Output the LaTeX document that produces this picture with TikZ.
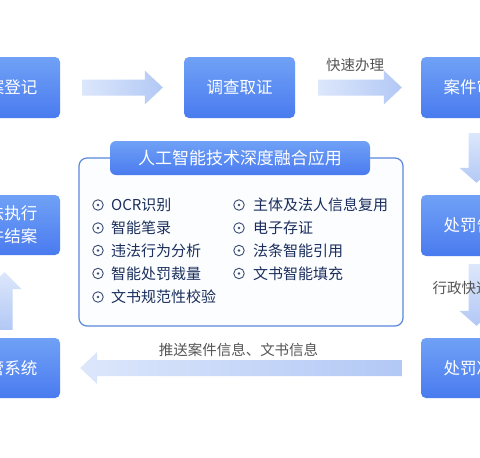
\documentclass[tikz,border=0pt]{standalone}
\usepackage{fontspec}
\newfontfamily\cjk{Noto Sans CJK SC}
\usetikzlibrary{calc}
\definecolor{boxtop}{HTML}{70A1F6}
\definecolor{boxbot}{HTML}{4A7BEF}
\definecolor{arrlight}{HTML}{DCE7FB}
\definecolor{arrdark}{HTML}{B2C8F5}
\definecolor{panelline}{HTML}{5A88DC}
\definecolor{panelfill}{HTML}{FBFDFF}
\definecolor{itemc}{HTML}{1B2E5C}
\definecolor{labelc}{HTML}{555555}
\newcommand\fatR[3][]{\path[#1] let \p1=(#2),\p2=(#3) in (\x1,\y1+8pt) -- (\x2-18pt,\y1+8pt) -- (\x2-18pt,\y1+17pt) -- (\x2,\y1) -- (\x2-18pt,\y1-17pt) -- (\x2-18pt,\y1-8pt) -- (\x1,\y1-8pt) -- cycle;}
\newcommand\fatL[3][]{\path[#1] let \p1=(#2),\p2=(#3) in (\x1,\y1+8pt) -- (\x2+17pt,\y1+8pt) -- (\x2+17pt,\y1+16pt) -- (\x2,\y1) -- (\x2+17pt,\y1-16pt) -- (\x2+17pt,\y1-8pt) -- (\x1,\y1-8pt) -- cycle;}
\newcommand\fatD[3][]{\path[#1] let \p1=(#2),\p2=(#3) in (\x1-8pt,\y1) -- (\x1-8pt,\y2+15pt) -- (\x1-17pt,\y2+15pt) -- (\x1,\y2) -- (\x1+17pt,\y2+15pt) -- (\x1+8pt,\y2+15pt) -- (\x1+8pt,\y1) -- cycle;}
\newcommand\fatU[3][]{\path[#1] let \p1=(#2),\p2=(#3) in (\x1-8pt,\y1) -- (\x1-8pt,\y2-17pt) -- (\x1-17pt,\y2-17pt) -- (\x1,\y2) -- (\x1+17pt,\y2-17pt) -- (\x1+8pt,\y2-17pt) -- (\x1+8pt,\y1) -- cycle;}
\begin{document}
\begin{tikzpicture}[x=1pt,y=-1pt,
  every node/.style={font=\cjk},
  procbox/.style={rounded corners=5pt, minimum width=111pt, minimum height=61pt, inner sep=0pt,
    top color=boxtop, bottom color=boxbot, draw=none, text=white, align=center,
    font=\cjk\fontsize{16.5}{23}\selectfont},
  tabbox/.style={rounded corners=6pt, minimum width=260pt, minimum height=34pt, inner sep=0pt,
    top color=boxtop, bottom color=boxbot, text=white, font=\cjk\fontsize{17}{20}\selectfont},
  item/.style={anchor=west, inner sep=0pt, text=itemc, font=\cjk\fontsize{15}{17}\selectfont},
  bul/.style={circle, draw=itemc!85, line width=0.9pt, minimum size=10.5pt, inner sep=0pt,
    path picture={\fill[itemc!85] (path picture bounding box.center) circle (1.3pt);}},
  lab/.style={text=labelc, inner sep=0pt, font=\cjk\fontsize{14.5}{17}\selectfont},
  harr/.style={left color=arrlight, right color=arrdark},
  larr/.style={left color=arrlight, right color=arrdark},
  darr/.style={top color=arrlight, bottom color=arrdark},
  uarr/.style={top color=arrlight, bottom color=arrdark}]
\clip (0,0) rectangle (480,458);
\fill[white] (0,0) rectangle (480,458);

% process boxes
\node[procbox] (b1) at (4.5,87.5) {立案登记};
\node[procbox] (b2) at (239.5,87.5) {调查取证};
\node[procbox] (b3) at (476.5,87.5) {案件审核};
\node[procbox] (b4) at (476.5,225.5) {处罚告知};
\node[procbox, minimum height=60pt] (b5) at (476.5,368) {处罚决定};
\node[procbox, minimum height=60pt] (b6) at (4.5,368) {监管系统};
\node[procbox, minimum height=60pt] (b7) at (4.5,225) {依法执行\\案件结案};

% connector end points
\coordinate (a1s) at ($(b1.east)+(22,0)$);
\coordinate (a1e) at ($(b2.west)+(-21,0)$);
\coordinate (a2s) at ($(b2.east)+(23,0)$);
\coordinate (a2e) at ($(b3.west)+(-19,0)$);
\coordinate (a3s) at ($(b3.south)+(0,15)$);
\coordinate (a3e) at ($(b4.north)+(0,-12)$);
\coordinate (a4s) at ($(b4.south)+(0,8)$);
\coordinate (a4e) at ($(b5.north)+(0,-12)$);
\coordinate (a5s) at ($(b5.west)+(-19,0)$);
\coordinate (a5e) at ($(b6.east)+(20,0)$);
\coordinate (a6s) at ($(b6.north)+(0,-8)$);
\coordinate (a6e) at ($(b7.south)+(0,17)$);

% fat arrows
\fatR[harr]{a1s}{a1e}
\fatR[harr]{a2s}{a2e}
\fatD[darr]{a3s}{a3e}
\fatD[darr]{a4s}{a4e}
\fatL[larr]{a5s}{a5e}
\fatU[uarr]{a6s}{a6e}

% labels
\node[lab] (l1) at (355,65) {快速办理};
\node[lab] (l2) at (476,288) {行政快速办理};
\node[lab] (l3) at (238.5,350) {推送案件信息、文书信息};

% central panel
\draw[panelline, line width=1.2pt, fill=panelfill, rounded corners=8pt] (79,158) rectangle (403,326);
\node[tabbox] (tab) at (240,158) {人工智能技术深度融合应用};

% items, column 1
\node[bul] (c1) at (98,205) {};
\node[item] (t1) at (111,205) {OCR识别};
\node[bul] (c2) at (98,228) {};
\node[item] (t2) at (111,228) {智能笔录};
\node[bul] (c3) at (98,250.5) {};
\node[item] (t3) at (111,250.5) {违法行为分析};
\node[bul] (c4) at (98,273.5) {};
\node[item] (t4) at (111,273.5) {智能处罚裁量};
\node[bul] (c5) at (98,297) {};
\node[item] (t5) at (111,297) {文书规范性校验};
% items, column 2
\node[bul] (d1) at (239,205) {};
\node[item] (u1) at (253,205) {主体及法人信息复用};
\node[bul] (d2) at (239,228) {};
\node[item] (u2) at (253,228) {电子存证};
\node[bul] (d3) at (239,250.5) {};
\node[item] (u3) at (253,250.5) {法条智能引用};
\node[bul] (d4) at (239,273.5) {};
\node[item] (u4) at (253,273.5) {文书智能填充};
\end{tikzpicture}
\end{document}
